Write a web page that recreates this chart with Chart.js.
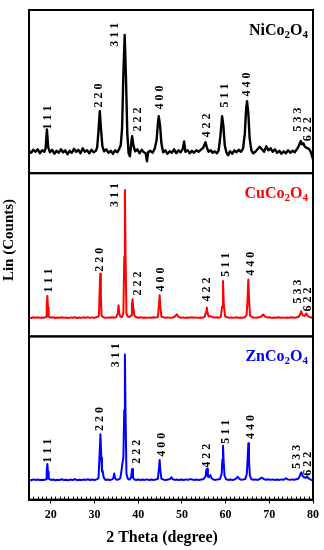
<!DOCTYPE html>
<html>
<head>
<meta charset="utf-8">
<script src="https://cdn.jsdelivr.net/npm/chart.js@4.4.0/dist/chart.umd.min.js"></script>
<style>
  html, body { margin: 0; padding: 0; background: #fff; }
  #wrap { width: 324px; height: 550px; }
</style>
</head>
<body>
<div id="wrap"><canvas id="xrd"></canvas></div>
<script>
// 2 theta (degree) and intensity, one pair of arrays per sample
const thetaNi = [15.0,15.5,16.0,16.5,17.0,17.5,18.0,18.5,18.8,19.1,19.4,19.8,20.3,20.8,21.3,21.8,22.3,22.8,23.3,23.8,
  24.3,24.8,25.3,25.8,26.3,26.8,27.3,27.8,28.3,28.8,29.3,29.8,30.3,30.6,30.9,31.2,31.5,31.8,32.2,32.7,
  33.2,33.7,34.2,34.7,35.2,35.6,36.0,36.3,36.6,36.9,37.2,37.5,37.8,38.1,38.4,38.6,38.9,39.3,39.8,40.3,
  40.8,41.3,41.7,42.0,42.3,42.8,43.3,43.8,44.2,44.5,44.7,45.0,45.3,45.7,46.2,46.7,47.2,47.7,48.2,48.7,
  49.2,49.7,50.2,50.5,50.8,51.3,51.8,52.3,52.8,53.3,53.8,54.3,54.8,55.1,55.4,55.7,56.1,56.6,57.0,57.5,
  58.0,58.4,58.8,59.2,59.5,59.8,60.2,60.6,61.0,61.5,62.0,62.5,63.0,63.5,64.0,64.4,64.7,64.9,65.2,65.5,
  65.9,66.3,66.8,67.3,67.8,68.3,68.8,69.3,69.8,70.3,70.8,71.3,71.8,72.3,72.8,73.3,73.8,74.3,74.8,75.3,
  75.8,76.3,76.7,77.0,77.2,77.5,77.8,78.1,78.5,78.9,79.3,79.6,80.0];
const countsNi = [225,205,235,215,240,200,230,215,250,440,260,210,235,195,225,205,240,210,230,190,
  225,205,245,215,235,200,250,215,230,200,235,210,225,260,420,623,430,270,220,240,
  205,225,195,230,210,240,280,450,1000,1390,950,400,200,170,300,373,280,220,240,200,
  235,210,200,120,215,225,205,250,330,500,573,480,300,210,230,195,220,205,240,200,
  230,210,245,320,215,230,200,225,205,230,215,235,250,280,310,260,215,230,205,220,
  200,230,370,573,470,280,205,180,220,195,230,210,235,215,250,400,650,723,600,350,
  230,200,215,240,265,240,215,270,230,250,215,240,205,225,195,220,200,230,205,225,
  210,240,270,300,323,290,300,270,255,250,230,200,140];

const thetaCu = [15.0,15.5,16.0,16.5,17.0,17.5,18.0,18.5,18.9,19.05,19.2,19.35,19.5,20.0,20.5,21.0,21.5,22.0,22.5,23.0,
  23.5,24.0,24.5,25.0,25.5,26.0,26.5,27.0,27.5,28.0,28.5,29.0,29.5,30.0,30.5,31.0,31.15,31.3,31.45,31.6,
  32.0,32.5,33.0,33.5,34.0,34.5,35.0,35.35,35.5,35.65,35.9,36.3,36.6,36.8,36.95,37.1,37.3,37.6,38.0,38.4,
  38.55,38.7,38.85,39.1,39.5,40.0,40.5,41.0,41.5,42.0,42.5,43.0,43.5,44.0,44.5,44.75,44.9,45.05,45.3,45.8,
  46.3,46.8,47.3,47.8,48.3,48.8,49.2,49.7,50.2,50.7,51.2,51.7,52.2,52.7,53.2,53.7,54.2,54.7,55.2,55.55,
  55.7,55.85,56.1,56.5,56.9,57.4,57.9,58.4,58.9,59.2,59.4,59.6,59.9,60.4,60.9,61.4,61.9,62.4,62.9,63.4,
  63.9,64.4,64.8,65.0,65.2,65.4,65.6,66.0,66.5,67.0,67.5,68.0,68.6,69.1,69.6,70.1,70.6,71.1,71.6,72.1,
  72.6,73.1,73.6,74.1,74.6,75.1,75.6,76.1,76.6,77.0,77.3,77.6,78.0,78.5,78.8,79.2,79.6,80.0];
const countsCu = [190,185,193,187,192,186,190,188,195,300,407,290,200,188,192,185,190,187,193,186,
  190,184,191,187,193,185,190,186,192,188,194,186,191,187,192,205,430,630,420,210,
  192,186,191,187,193,188,195,240,313,230,200,195,230,800,1470,800,230,200,195,210,
  320,373,300,210,195,188,192,188,190,186,191,187,192,189,195,320,413,310,200,192,
  187,191,186,190,195,222,196,188,191,186,190,187,192,188,191,186,190,188,196,250,
  290,240,200,205,195,189,192,188,195,300,557,310,200,192,187,191,186,192,188,191,
  187,192,215,350,573,340,210,195,190,187,192,196,220,196,189,192,186,190,187,192,
  188,191,186,190,188,192,187,191,195,215,253,215,205,230,205,195,190,185];

const thetaZn = [15.0,15.5,16.0,16.5,17.0,17.5,18.0,18.5,18.9,19.05,19.2,19.35,19.5,20.0,20.5,21.0,21.5,22.0,22.5,23.0,
  23.5,24.0,24.5,25.0,25.5,26.0,26.5,27.0,27.5,28.0,28.5,29.0,29.5,30.0,30.5,30.9,31.15,31.35,31.55,31.7,
  31.85,32.1,32.5,33.0,33.5,34.0,34.3,34.5,34.7,35.0,35.5,35.9,36.2,36.35,36.6,36.8,36.95,37.1,37.3,37.6,
  38.0,38.35,38.6,38.8,39.1,39.5,40.0,40.5,41.0,41.5,42.0,42.5,43.0,43.5,44.0,44.5,44.75,44.9,45.05,45.3,
  45.8,46.3,46.8,47.3,47.6,47.9,48.4,48.9,49.4,49.9,50.4,50.9,51.4,51.9,52.4,52.9,53.4,53.9,54.4,54.9,
  55.4,55.6,55.75,55.95,56.2,56.5,56.8,57.2,57.7,58.2,58.7,59.1,59.25,59.4,59.55,59.75,60.1,60.6,61.1,61.6,
  62.1,62.5,62.8,63.1,63.5,64.0,64.5,64.85,65.05,65.2,65.35,65.55,65.9,66.4,66.9,67.4,67.9,68.3,68.8,69.3,
  69.8,70.3,70.8,71.3,71.8,72.3,72.8,73.3,73.8,74.2,74.7,75.2,75.7,76.2,76.6,76.9,77.2,77.35,77.6,77.9,
  78.3,78.6,78.9,79.3,79.6,80.0];
const countsZn = [200,195,203,197,202,196,200,198,205,290,357,280,210,198,202,195,200,197,205,196,
  200,194,201,197,206,195,200,196,202,198,204,196,201,197,203,215,450,657,420,280,
  290,220,198,202,196,203,215,263,215,200,203,215,300,357,420,900,1457,850,260,210,
  200,220,307,220,203,197,202,196,201,198,203,197,201,196,202,210,320,397,300,210,
  200,196,202,207,225,205,198,202,196,201,197,203,198,206,201,197,202,196,201,205,
  230,300,307,230,225,247,215,202,198,203,206,260,400,540,390,240,205,198,202,197,
  203,215,230,210,200,203,207,260,420,567,400,240,205,199,203,197,210,220,205,200,
  204,198,203,197,202,198,203,199,215,203,198,203,200,204,210,230,265,273,240,225,
  218,233,215,205,198,190];

// Miller indices and where their labels sit (2 theta, intensity)
const hklText = ['1 1 1', '2 2 0', '3 1 1', '2 2 2', '4 0 0', '4 2 2', '5 1 1', '4 4 0', '5 3 3', '6 2 2'];
const hklThetaNi = [19.3, 31.0, 34.7, 39.9, 45.0, 55.8, 59.9, 64.8, 76.5, 78.9];
const hklCountsNi = [440, 660, 1270, 420, 640, 360, 660, 770, 420, 320];
const hklThetaCu = [19.6, 31.2, 34.7, 40.0, 45.2, 55.8, 60.0, 65.7, 76.5, 78.9];
const hklCountsCu = [440, 650, 1300, 410, 450, 350, 600, 610, 330, 250];
const hklThetaZn = [19.4, 31.2, 34.9, 39.6, 45.4, 55.8, 60.0, 65.7, 76.3, 78.9];
const hklCountsZn = [370, 690, 1330, 360, 430, 320, 560, 610, 310, 240];

const xTicks = [20, 30, 40, 50, 60, 70, 80];

const serif = '"Liberation Serif", "Times New Roman", serif';

const panels = [
  {axis: 'yNi', name: ['NiCo', '2', 'O', '4'], color: '#000000', theta: thetaNi, counts: countsNi, hklX: hklThetaNi, hklY: hklCountsNi, width: 2.4},
  {axis: 'yCu', name: ['CuCo', '2', 'O', '4'], color: '#ff0000', theta: thetaCu, counts: countsCu, hklX: hklThetaCu, hklY: hklCountsCu, width: 2},
  {axis: 'yZn', name: ['ZnCo', '2', 'O', '4'], color: '#0000ff', theta: thetaZn, counts: countsZn, hklX: hklThetaZn, hklY: hklCountsZn, width: 2}
];

function toPoints(xs, ys) {
  return xs.map((x, i) => ({x: x, y: ys[i]}));
}

const decor = {
  id: 'decor',
  afterDatasetsDraw(chart) {
    const {ctx, chartArea: {left, right, bottom}, scales} = chart;
    const x = scales.x;
    ctx.save();

    // frame round each panel
    ctx.strokeStyle = '#000';
    ctx.lineWidth = 2;
    panels.forEach(p => {
      const y = scales[p.axis];
      ctx.strokeRect(left, y.top, right - left, y.bottom - y.top);
    });

    // minor ticks on the bottom axis
    ctx.lineWidth = 1;
    for (let v = 15; v <= 80; v++) {
      const px = Math.round(x.getPixelForValue(v)) + 0.5;
      ctx.beginPath();
      ctx.moveTo(px, bottom);
      ctx.lineTo(px, bottom - 3);
      ctx.stroke();
    }

    // hkl labels, rotated
    ctx.fillStyle = '#000';
    ctx.font = 'bold 12px ' + serif;
    ctx.textAlign = 'left';
    ctx.textBaseline = 'middle';
    panels.forEach(p => {
      const y = scales[p.axis];
      hklText.forEach((t, i) => {
        ctx.save();
        ctx.translate(x.getPixelForValue(p.hklX[i]), y.getPixelForValue(p.hklY[i]));
        ctx.rotate(-Math.PI / 2);
        ctx.fillText(t, 0, 0);
        ctx.restore();
      });
    });

    // sample names with subscripts
    ctx.textBaseline = 'alphabetic';
    panels.forEach(p => {
      const y = scales[p.axis];
      const fonts = ['bold 16px ' + serif, 'bold 11px ' + serif];
      let total = 0;
      p.name.forEach((s, i) => { ctx.font = fonts[i % 2]; total += ctx.measureText(s).width; });
      let cx = right - 5 - total;
      const base = y.top + 24.5;
      ctx.fillStyle = p.color;
      p.name.forEach((s, i) => {
        ctx.font = fonts[i % 2];
        ctx.fillText(s, cx, i % 2 ? base + 3.5 : base);
        cx += ctx.measureText(s).width;
      });
    });

    // axis titles
    ctx.fillStyle = '#000';
    ctx.textAlign = 'center';
    ctx.textBaseline = 'middle';
    ctx.font = 'bold 16px ' + serif;
    ctx.fillText('2 Theta (degree)', 162, 538);
    ctx.save();
    ctx.translate(9, 240);
    ctx.rotate(-Math.PI / 2);
    ctx.font = 'bold 15px ' + serif;
    ctx.fillText('Lin (Counts)', 0, 0);
    ctx.restore();

    ctx.restore();
  }
};

const yAxis = {
  type: 'linear',
  position: 'left',
  stack: 'xrd',
  stackWeight: 1,
  min: 0,
  max: 1640,
  display: false
};

// stacked axes are placed bottom first, so Zn comes first here
new Chart(document.getElementById('xrd'), {
  type: 'line',
  data: {
    datasets: panels.map(p => ({
      data: toPoints(p.theta, p.counts),
      yAxisID: p.axis,
      borderColor: p.color,
      borderWidth: p.width,
      borderJoinStyle: 'round',
      pointRadius: 0,
      tension: 0,
      fill: false
    }))
  },
  options: {
    responsive: true,
    maintainAspectRatio: false,
    animation: false,
    layout: {padding: {left: 29, right: 11, top: 10, bottom: 24}},
    plugins: {legend: {display: false}, tooltip: {enabled: false}},
    scales: {
      x: {
        type: 'linear',
        min: 15,
        max: 80,
        afterBuildTicks: scale => { scale.ticks = xTicks.map(v => ({value: v})); },
        grid: {drawOnChartArea: false, tickLength: 4, color: '#000', lineWidth: 1},
        border: {display: true, color: '#000', width: 2},
        ticks: {color: '#000', padding: 4, maxRotation: 0, font: {family: serif, size: 12, weight: 'bold'}}
      },
      yZn: Object.assign({}, yAxis),
      yCu: Object.assign({}, yAxis),
      yNi: Object.assign({}, yAxis)
    }
  },
  plugins: [decor]
});
</script>
</body>
</html>
